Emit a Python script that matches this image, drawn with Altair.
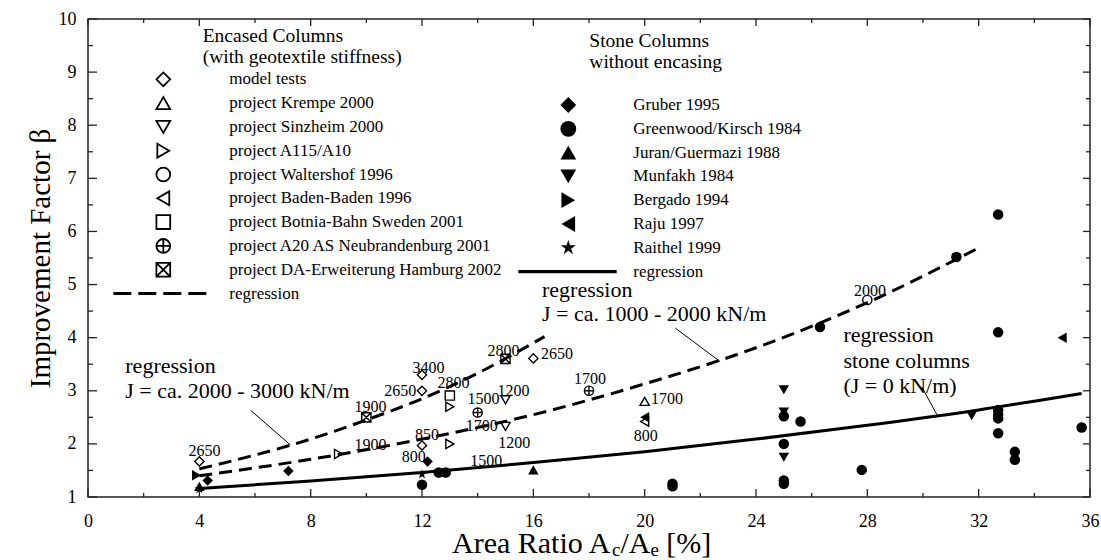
import altair as alt
import pandas as pd

FONT = "Liberation Serif"

# ---------------- axis tick values ----------------
X_LABELS = [0, 4, 8, 12, 16, 20, 24, 28, 32, 36]
X_MINOR = [2, 6, 10, 14, 18, 22, 26, 30, 34]
Y_LABELS = [1, 2, 3, 4, 5, 6, 7, 8, 9, 10]
Y_MINOR = [1.5, 2.5, 3.5, 4.5, 5.5, 6.5, 7.5, 8.5, 9.5]

# ---------------- series names ----------------
ENCASED = ["model tests", "project Krempe 2000", "project Sinzheim 2000",
           "project A115/A10", "project Waltershof 1996", "project Baden-Baden 1996",
           "project Botnia-Bahn Sweden 2001", "project A20 AS Neubrandenburg 2001",
           "project DA-Erweiterung Hamburg 2002"]
STONE = ["Gruber 1995", "Greenwood/Kirsch 1984", "Juran/Guermazi 1988",
         "Munfakh 1984", "Bergado 1994", "Raju 1997", "Raithel 1999"]

# ---------------- encased columns (open symbols) ----------------
model_tests_x = [4.0, 12.0, 12.0, 12.0, 16.0]
model_tests_y = [1.67, 3.30, 3.00, 1.97, 3.61]
krempe_x = [20.0]
krempe_y = [2.80]
sinzheim_x = [15.0, 15.0]
sinzheim_y = [2.83, 2.33]
a115_x = [9.0, 13.0, 13.0]
a115_y = [1.81, 2.70, 2.00]
waltershof_x = [28.0]
waltershof_y = [4.71]
baden_x = [20.0]
baden_y = [2.42]
botnia_x = [13.0]
botnia_y = [2.91]
a20_x = [14.0, 18.0]
a20_y = [2.59, 3.00]
da_x = [10.0, 15.0]
da_y = [2.50, 3.60]

# ---------------- stone columns (filled symbols) ----------------
gruber_x = [4.3, 7.2, 12.2]
gruber_y = [1.31, 1.49, 1.67]
greenwood_x = [12.0, 12.6, 12.85, 21.0, 21.0, 25.0, 25.6, 25.0, 25.0, 25.0, 26.3,
               27.8, 31.2, 32.7, 32.7, 32.7, 32.7, 32.7, 32.7, 33.3, 33.3, 35.7]
greenwood_y = [1.23, 1.46, 1.46, 1.25, 1.20, 2.52, 2.42, 2.00, 1.31, 1.25, 4.20,
               1.51, 5.52, 6.32, 4.10, 2.64, 2.55, 2.48, 2.20, 1.85, 1.70, 2.31]
juran_x = [4.0, 16.0]
juran_y = [1.20, 1.51]
munfakh_x = [25.0, 25.0, 25.0, 31.75]
munfakh_y = [3.02, 2.60, 1.75, 2.53]
bergado_x = [3.9]
bergado_y = [1.41]
raju_x = [20.0, 35.0]
raju_y = [2.50, 4.00]
raithel_x = [4.0, 12.0]
raithel_y = [1.15, 1.43]

# ---------------- geotextile stiffness labels ----------------
label_text = ["2650", "3400", "2650", "2800", "1500", "1200", "1700", "1200", "2800",
              "2650", "1700", "1700", "800", "850", "1900", "1900", "800", "1500", "2000"]
label_x = [4.19, 12.23, 11.22, 13.13, 14.21, 15.29, 14.15, 15.31, 14.93,
           16.85, 18.04, 20.8, 20.04, 12.18, 10.15, 10.15, 11.7, 14.31, 28.1]
label_y = [1.87, 3.43, 2.99, 3.15, 2.84, 2.99, 2.33, 2.01, 3.74,
           3.70, 3.22, 2.84, 2.14, 2.17, 2.69, 1.97, 1.75, 1.67, 4.87]

# ---------------- regression curves ----------------
reg_high_x = [4, 6, 8, 10, 12, 14, 16.4]
reg_high_y = [1.53, 1.79, 2.09, 2.45, 2.85, 3.33, 4.02]
reg_mid_x = [4, 8, 12, 16, 20, 24, 28, 32]
reg_mid_y = [1.40, 1.71, 2.09, 2.55, 3.13, 3.81, 4.66, 5.69]
reg_stone_x = [4, 8, 12, 16, 20, 24, 28, 32, 35.7]
reg_stone_y = [1.16, 1.30, 1.46, 1.65, 1.85, 2.09, 2.35, 2.64, 2.95]

# ---------------- annotations ----------------
note_text = ["regression", "J = ca. 2000 - 3000 kN/m", "regression",
             "J = ca. 1000 - 2000 kN/m", "regression", "stone columns", "(J = 0 kN/m)"]
note_x = [1.34, 1.34, 16.31, 16.31, 27.14, 27.14, 27.14]
note_y = [3.33, 2.86, 4.77, 4.32, 3.91, 3.43, 2.96]
leader_x = [5.85, 21.1, 29.96]
leader_y = [2.63, 4.18, 3.07]
leader_x2 = [7.27, 22.71, 30.5]
leader_y2 = [1.98, 3.55, 2.55]

# ---------------- layout ----------------
W, H = 1002, 478
LEFT, TOP = 88, 19
X_MIN, X_MAX = 0, 36
Y_MIN, Y_MAX = 1, 10


def px_to_x(px):
    return X_MIN + (px - LEFT) / W * (X_MAX - X_MIN)


def py_to_y(py):
    return Y_MIN + (TOP + H - py) / H * (Y_MAX - Y_MIN)


CROSS_CIRCLE = "M-1,0A1,1,0,1,1,1,0A1,1,0,1,1,-1,0ZM-1,0L1,0M0,-1L0,1"
CROSS_SQUARE = "M-1,-1L1,-1L1,1L-1,1ZM-1,-1L1,1M1,-1L-1,1"
STAR = ("M0,-1L0.2245,-0.309L0.951,-0.309L0.363,0.118L0.588,0.809L0,0.382"
        "L-0.588,0.809L-0.363,0.118L-0.951,-0.309L-0.2245,-0.309Z")
ENC_SHAPES = ["diamond", "triangle-up", "triangle-down", "triangle-right", "circle",
              "triangle-left", "square", CROSS_CIRCLE, CROSS_SQUARE]
STONE_SHAPES = ["diamond", "circle", "triangle-up", "triangle-down", "triangle-right",
                "triangle-left", STAR]

shape_scale = alt.Scale(domain=ENCASED + STONE, range=ENC_SHAPES + STONE_SHAPES)
xscale = alt.Scale(domain=[X_MIN, X_MAX], nice=False, zero=False)
yscale = alt.Scale(domain=[Y_MIN, Y_MAX], nice=False, zero=False)

x_axis = alt.Axis(values=X_LABELS, title="", labelFont=FONT, labelFontSize=18,
                  labelColor="black", labelPadding=15, labelFlush=False,
                  labelOverlap=False, ticks=False, tickSize=0, domain=False, grid=False)
y_axis = alt.Axis(values=Y_LABELS, title="Improvement Factor β", labelFont=FONT,
                  labelFontSize=18, labelColor="black", labelPadding=12,
                  labelFlush=False, labelOverlap=False, ticks=False, tickSize=0,
                  domain=False, grid=False, titleFont=FONT, titleFontSize=29,
                  titleFontWeight="normal", titleColor="black", titleX=-48,
                  titleY=H / 2, titleAngle=270, titleAlign="center",
                  titleBaseline="middle")


def X(field):
    return alt.X(f"{field}:Q", scale=xscale, axis=x_axis)


def Y(field):
    return alt.Y(f"{field}:Q", scale=yscale, axis=y_axis)


def SH():
    return alt.Shape("series:N", scale=shape_scale, legend=None)


# ---------------- data frames ----------------
enc_data = [(model_tests_x, model_tests_y), (krempe_x, krempe_y), (sinzheim_x, sinzheim_y),
            (a115_x, a115_y), (waltershof_x, waltershof_y), (baden_x, baden_y),
            (botnia_x, botnia_y), (a20_x, a20_y), (da_x, da_y)]
stone_data = [(gruber_x, gruber_y), (greenwood_x, greenwood_y), (juran_x, juran_y),
              (munfakh_x, munfakh_y), (bergado_x, bergado_y), (raju_x, raju_y),
              (raithel_x, raithel_y)]


def points_df(names, data):
    rows = []
    for name, (xs, ys) in zip(names, data):
        for a, b in zip(xs, ys):
            rows.append({"series": name, "x": a, "y": b})
    return pd.DataFrame(rows)


enc_df = points_df(ENCASED, enc_data)
stone_df = points_df(STONE, stone_data)

layers = []

# ---- inward ticks on all four sides ----
TICK = "#222222"
for vals, ln_b, ln_t in [(X_LABELS, 8, 7), (X_MINOR, 4, 4)]:
    d = pd.DataFrame({"v": vals})
    layers.append(alt.Chart(d).mark_rule(color=TICK, strokeWidth=1.3).encode(
        x=X("v"), y=alt.value(H), y2=alt.value(H - ln_b)))
    layers.append(alt.Chart(d).mark_rule(color=TICK, strokeWidth=1.3).encode(
        x=X("v"), y=alt.value(0), y2=alt.value(ln_t)))
for vals, ln_l, ln_r in [(Y_LABELS, 9, 7), (Y_MINOR, 5, 4)]:
    d = pd.DataFrame({"v": vals})
    layers.append(alt.Chart(d).mark_rule(color=TICK, strokeWidth=1.3).encode(
        y=Y("v"), x=alt.value(0), x2=alt.value(ln_l)))
    layers.append(alt.Chart(d).mark_rule(color=TICK, strokeWidth=1.3).encode(
        y=Y("v"), x=alt.value(W), x2=alt.value(W - ln_r)))

# ---- regression curves ----
for xs, ys, dash in [(reg_high_x, reg_high_y, True), (reg_mid_x, reg_mid_y, True),
                     (reg_stone_x, reg_stone_y, False)]:
    d = pd.DataFrame({"x": xs, "y": ys})
    kw = dict(color="black", strokeWidth=3, interpolate="monotone", strokeCap="butt")
    if dash:
        kw["strokeDash"] = [13, 7]
    layers.append(alt.Chart(d).mark_line(**kw).encode(x=X("x"), y=Y("y")))

# ---- leader lines ----
lead_df = pd.DataFrame({"x": leader_x, "y": leader_y, "x2": leader_x2, "y2": leader_y2})
layers.append(alt.Chart(lead_df).mark_rule(color="black", strokeWidth=1).encode(
    x=X("x"), y=Y("y"), x2="x2:Q", y2="y2:Q"))

# ---- data points ----
layers.append(alt.Chart(enc_df).mark_point(filled=False, color="black", strokeWidth=1.4,
                                           size=85, opacity=1).encode(
    x=X("x"), y=Y("y"), shape=SH()))
layers.append(alt.Chart(stone_df).mark_point(filled=True, color="black", size=110,
                                             opacity=1).encode(
    x=X("x"), y=Y("y"), shape=SH()))

# ---- stiffness labels ----
lab_df = pd.DataFrame({"t": label_text, "x": label_x, "y": label_y})
layers.append(alt.Chart(lab_df).mark_text(font=FONT, fontSize=16, color="black",
                                          align="center", baseline="middle").encode(
    x=X("x"), y=Y("y"), text="t:N"))

# ---- annotations ----
note_df = pd.DataFrame({"t": note_text, "x": note_x, "y": note_y})
layers.append(alt.Chart(note_df).mark_text(font=FONT, fontSize=22, color="black",
                                           align="left", baseline="alphabetic").encode(
    x=X("x"), y=Y("y"), text="t:N"))

# ---- custom legends ----
ROW = 23.8
leg_specs = [
    (ENCASED, 163.3, 229.3, 79.3, False,
     ["Encased Columns", "(with geotextile stiffness)"], 202.7, 42.3, (113.3, 206.7), True),
    (STONE, 568.3, 633.3, 105.0, True,
     ["Stone Columns", "without encasing"], 589.3, 47.3, (518.3, 616.7), False),
]
for names, sx, lx, y0, filled, header, hx, hy, span, dashed in leg_specs:
    n = len(names)
    rows_py = [y0 + ROW * i for i in range(n + 1)]
    sym_df = pd.DataFrame({"series": names,
                           "x": [px_to_x(sx)] * n,
                           "y": [py_to_y(p) for p in rows_py[:n]]})
    if filled:
        mk = alt.Chart(sym_df).mark_point(filled=True, color="black", size=250, opacity=1)
    else:
        mk = alt.Chart(sym_df).mark_point(filled=False, color="black", strokeWidth=1.8,
                                          size=190, opacity=1)
    layers.append(mk.encode(x=X("x"), y=Y("y"), shape=SH()))
    txt_df = pd.DataFrame({"t": names + ["regression"],
                           "x": [px_to_x(lx)] * (n + 1),
                           "y": [py_to_y(p) for p in rows_py]})
    layers.append(alt.Chart(txt_df).mark_text(font=FONT, fontSize=17, color="black",
                                              align="left", baseline="middle").encode(
        x=X("x"), y=Y("y"), text="t:N"))
    line_df = pd.DataFrame({"x": [px_to_x(span[0])], "x2": [px_to_x(span[1])],
                            "y": [py_to_y(rows_py[n])]})
    kw = dict(color="black", strokeWidth=3.2, strokeCap="butt")
    if dashed:
        kw["strokeDash"] = [18, 7]
    layers.append(alt.Chart(line_df).mark_rule(**kw).encode(x=X("x"), x2="x2:Q", y=Y("y")))
    head_df = pd.DataFrame({"t": header,
                            "x": [px_to_x(hx)] * len(header),
                            "y": [py_to_y(hy), py_to_y(hy + 20.4)]})
    layers.append(alt.Chart(head_df).mark_text(font=FONT, fontSize=19.5, color="black",
                                               align="left", baseline="alphabetic").encode(
        x=X("x"), y=Y("y"), text="t:N"))

# ---- x-axis title with subscripts ----
one = pd.DataFrame({"a": [0]})
T_MAIN, T_SUB = 30, 19
base_y = 553 - TOP
start_x = 452 - LEFT
pieces = [("Area Ratio A", 0.0, T_MAIN, 0), ("c", 160.0, T_SUB, 3),
          ("/A", 168.4, T_MAIN, 0), ("e", 198.4, T_SUB, 3), ("[%]", 214.3, T_MAIN, 0)]
for txt, off, fs, dy in pieces:
    layers.append(alt.Chart(one).mark_text(font=FONT, fontSize=fs, color="black",
                                           align="left", baseline="alphabetic").encode(
        x=alt.value(start_x + off), y=alt.value(base_y + dy), text=alt.value(txt)))

chart = alt.layer(*layers).properties(
    width=W, height=H,
    autosize=alt.AutoSizeParams(type="none"),
    padding={"left": LEFT, "top": TOP, "right": 1101 - LEFT - W, "bottom": 560 - TOP - H},
    background="white",
).configure_view(stroke="#222222", strokeWidth=1.5)

chart.save("out.html", embed_options={"renderer": "svg", "actions": False})
